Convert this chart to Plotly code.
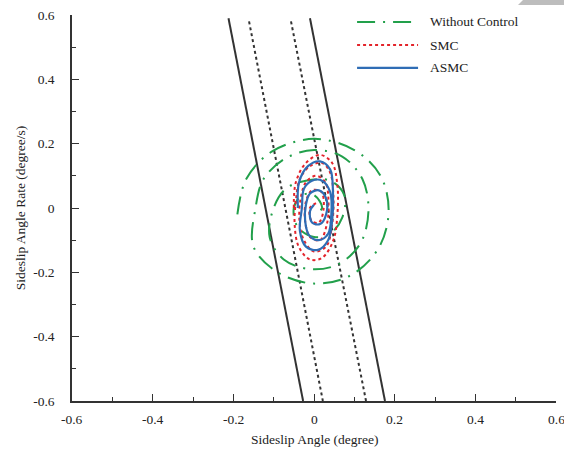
import plotly.graph_objects as go

# ---- data ----
tick_vals = [-0.6, -0.4, -0.2, 0, 0.2, 0.4, 0.6]
tick_text = ["-0.6", "-0.4", "-0.2", "0", "0.2", "0.4", "0.6"]
series_names = ["Without Control", "SMC", "ASMC"]
x_title = "Sideslip Angle (degree)"
y_title = "Sideslip Angle Rate (degree/s)"

# boundary lines (sliding surface and boundary layer)
solid_left_x = [-0.212, -0.027]
solid_right_x = [-0.010, 0.176]
solid_y = [0.59, -0.60]
dot_left_x = [-0.161, 0.022]
dot_right_x = [-0.057, 0.129]
dot_y = [0.58, -0.60]

# Without Control trajectory (spiral)
wc_x = [-0.19, -0.168, -0.105, 0.0, 0.10, 0.165, 0.185, 0.16, 0.09, 0.0, -0.09, -0.15,
        -0.145, -0.125, -0.07, 0.0, 0.07, 0.12, 0.135, 0.115, 0.06, -0.01, -0.075, -0.11,
        -0.10, -0.07, -0.02, 0.04, 0.075, 0.07, 0.04, 0.0, -0.04, -0.05, -0.03, 0.0, 0.02, 0.0]
wc_y = [-0.02, 0.09, 0.175, 0.215, 0.18, 0.10, -0.01, -0.125, -0.21, -0.235, -0.20, -0.12,
        0.0, 0.09, 0.155, 0.18, 0.16, 0.09, -0.01, -0.11, -0.175, -0.19, -0.16, -0.09,
        0.0, 0.06, 0.085, 0.085, 0.04, -0.03, -0.08, -0.09, -0.06, 0.0, 0.04, 0.04, 0.0, -0.02]

# SMC trajectory
smc_x = [-0.05, -0.045, -0.02, 0.015, 0.045, 0.058, 0.058, 0.048, 0.02, -0.01, -0.038, -0.048,
         -0.045, -0.035, -0.01, 0.02, 0.04, 0.048, 0.045, 0.03, 0.0, -0.025, -0.036,
         -0.033, -0.02, 0.005, 0.028, 0.036, 0.032, 0.015, -0.01, -0.022,
         -0.02, -0.005, 0.018, 0.024, 0.012, -0.006, -0.01, 0.005]
smc_y = [0.0, 0.08, 0.14, 0.165, 0.14, 0.07, -0.02, -0.10, -0.155, -0.16, -0.12, -0.05,
         0.02, 0.09, 0.13, 0.14, 0.11, 0.04, -0.05, -0.12, -0.135, -0.10, -0.04,
         0.03, 0.08, 0.10, 0.08, 0.02, -0.05, -0.10, -0.09, -0.04,
         0.02, 0.055, 0.05, 0.0, -0.045, -0.04, 0.0, 0.015]

# ASMC trajectory
asmc_x = [-0.04, -0.037, -0.015, 0.015, 0.04, 0.047, 0.045, 0.035, 0.01, -0.02, -0.035,
          -0.03, -0.025, -0.005, 0.02, 0.04, 0.043, 0.035, 0.012, -0.012, -0.022,
          -0.02, -0.01, 0.012, 0.03, 0.03, 0.015, -0.005, -0.01, 0.0]
asmc_y = [0.0, 0.08, 0.13, 0.145, 0.12, 0.05, -0.04, -0.10, -0.13, -0.12, -0.07,
          0.0, 0.06, 0.085, 0.085, 0.05, -0.02, -0.08, -0.10, -0.085, -0.04,
          0.01, 0.045, 0.055, 0.03, -0.02, -0.05, -0.045, -0.01, 0.01]

GREEN = "#22a04b"
RED = "#e3242b"
BLUE = "#2f6db5"
BLACK = "#333333"
FONT = "Liberation Serif"
GREEN_DASH = "18px,8px,2px,8px"
TXT = dict(family=FONT, size=13.5, color="#222")

fig = go.Figure()
for xs, ys, dash in [(solid_left_x, solid_y, "solid"), (solid_right_x, solid_y, "solid"),
                     (dot_left_x, dot_y, "dot"), (dot_right_x, dot_y, "dot")]:
    fig.add_trace(go.Scatter(x=xs, y=ys, mode="lines", showlegend=False,
                             line=dict(color=BLACK, width=2, dash=dash), hoverinfo="skip"))

styles = [dict(color=GREEN, width=2, dash=GREEN_DASH),
          dict(color=RED, width=2, dash="dot"),
          dict(color=BLUE, width=2.2, dash="solid")]
for name, xs, ys, st in zip(series_names, [wc_x, smc_x, asmc_x], [wc_y, smc_y, asmc_y], styles):
    fig.add_trace(go.Scatter(x=xs, y=ys, mode="lines", name=name, showlegend=False,
                             line=dict(shape="spline", **st)))

# manual legend (long line samples like the reference)
leg_y = [0.982, 0.922, 0.863]
for name, st, ly in zip(series_names, styles, leg_y):
    fig.add_shape(type="line", xref="paper", yref="paper", x0=0.589, x1=0.715, y0=ly, y1=ly,
                  line=st)
    fig.add_annotation(xref="paper", yref="paper", x=0.735, y=ly, text=name, showarrow=False,
                       xanchor="left", yanchor="middle", font=TXT)

# x tick labels placed on the x scale
for v, t in zip(tick_vals, tick_text):
    fig.add_annotation(xref="x", yref="paper", x=v, y=-0.047, text=t, showarrow=False,
                       xanchor="center", yanchor="middle", font=TXT)

# x axis title
fig.add_annotation(xref="paper", yref="paper", x=0.5, y=-0.1, text=x_title, showarrow=False,
                   xanchor="center", yanchor="middle", font=TXT)

# grey corner artefact
fig.add_shape(type="path", xref="paper", yref="paper",
              path="M 0.9215 1.0259 L 0.9318 1.0389 L 1.0165 1.0389 L 1.0165 1.0259 Z",
              fillcolor="#bdbdbd", line=dict(width=0), layer="above")

minor_in = dict(ticks="inside", ticklen=4, dtick=0.1, tickcolor="#333", tickwidth=1)

fig.update_layout(
    width=564, height=454,
    margin=dict(l=72, r=8, t=15, b=53),
    paper_bgcolor="white", plot_bgcolor="white",
    font=TXT,
    xaxis=dict(range=[-0.6, 0.6], tickmode="array", tickvals=tick_vals, showticklabels=False,
               showgrid=False, zeroline=False, showline=True, linecolor="#333", linewidth=1.5,
               ticks="inside", ticklen=7, tickwidth=1.2, tickcolor="#333", minor=minor_in,
               automargin=False),
    yaxis=dict(range=[-0.6, 0.6], tickmode="array", tickvals=tick_vals, ticktext=tick_text,
               showgrid=False, zeroline=False, showline=True, linecolor="#333", linewidth=1.5,
               ticks="inside", ticklen=7, tickwidth=1.2, tickcolor="#333", minor=minor_in,
               tickfont=TXT, ticklabelstandoff=13, automargin=False,
               title=dict(text=y_title, standoff=4, font=TXT)),
    showlegend=False,
)

fig.write_html("out.html")
